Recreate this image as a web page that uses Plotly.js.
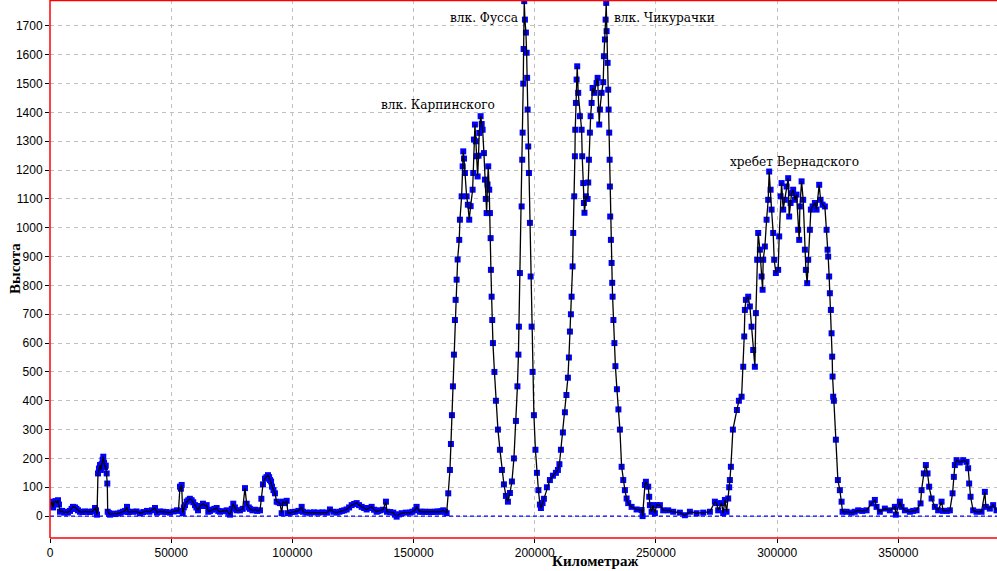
<!DOCTYPE html>
<html>
<head>
<meta charset="utf-8">
<script src="https://cdn.plot.ly/plotly-3.0.1.min.js"></script>
<style>html,body{margin:0;padding:0;background:#fff;}#chart{width:997px;height:571px;}</style>
</head>
<body>
<div id="chart"></div>
<script>
// Profile: distance (m) and elevation (m)
const profile = [
[0,35],[300,40],[800,50],[1300,30],[1650,48],[2300,52],[2900,45],[3300,55],[3700,40],[4125,15],[4950,18],[5800,12],[6600,15],[7400,12],[8250,18],[8900,25],[9490,32],[10300,30],[10900,25],[11550,20],[12375,15],[13400,14],[14440,16],[15500,15],[16500,14],[17500,16],[18560,28],[19000,20],[19390,5],
[19800,148],[20200,165],[20625,177],[21000,160],[21330,180],[21700,195],[21990,206],[22300,185],[22690,170],[23000,175],[23390,148],[23640,113],[23800,15],[24300,10],[24750,5],[25400,8],[25990,8],[27000,7],[28050,9],[29000,12],[30110,15],[31000,18],[31760,32],[32200,15],[32590,14],[34240,15],[35700,16],[37125,10],[38500,14],[40010,18],[41000,15],[42080,20],[43310,28],[44140,12],[45400,16],[46610,15],[48000,14],[49500,12],[51000,16],[52390,20],[53000,18],
[53625,102],[54000,95],[54330,108],[54740,10],[55200,30],[55690,38],[56400,50],[57050,55],[57700,60],[58450,55],[59100,48],[59810,38],[60400,30],[61050,20],[62000,35],[63110,43],[64000,35],[64640,38],[65300,15],[66000,18],[66830,22],[67800,25],[68760,28],[69400,18],[70125,15],[71500,17],[72890,20],[73600,12],[74250,5],[75000,25],[75610,43],[76300,30],[77010,20],[78375,20],[79500,25],[80440,97],[81140,43],[82000,30],[82500,25],[83500,20],[84560,22],[85500,18],[86625,20],
[87200,60],[87860,110],[88690,130],[89300,135],[89925,142],[90400,135],[90750,125],[91200,120],[91580,102],[92200,90],[92810,79],[93510,50],[94200,48],[94875,45],[95580,10],[96110,50],[96900,45],[97640,53],[98175,10],[99000,12],[100000,14],[101060,15],[102500,18],[103830,32],[104360,15],[105800,12],[107250,12],[108900,13],[110550,12],[112400,13],[114260,12],[115500,23],[116900,15],[118260,12],[119400,15],[120450,18],[121400,20],[122390,23],[123400,30],[124450,38],[125500,42],[126510,45],[127500,38],[128580,32],[129600,28],[130640,23],[131700,28],[132700,32],[133700,22],[134760,15],[135400,18],[136125,20],[137400,22],[138600,50],[139010,15],[140300,14],[141610,12],[142300,5],[143010,-2],[144000,6],[145080,10],[146800,12],[148500,12],[149500,15],[150560,20],[151260,32],[152625,15],[153600,15],[154690,15],[155700,14],[156750,15],[157800,14],[158810,15],[159800,16],[160875,15],[161500,17],[162240,20],[163000,15],[163640,10],
[164300,79],[165000,160],[165410,250],[165825,350],[166240,450],[166650,560],[167060,680],[167350,750],[167760,820],[168180,890],[168840,958],[169125,1028],[169830,1109],[170240,1213],[170490,1265],[170800,1240],[171190,1190],[171890,1109],[172400,1080],[172960,1028],[173540,1075],[174360,1132],[174610,1190],[174900,1306],[175310,1358],[175700,1300],[176010,1248],[176430,1178],[176800,1250],[177090,1329],[177660,1387],[178100,1360],[178490,1340],[179025,1259],[179440,1167],[179800,1100],[180140,1051],[180500,1150],[180800,1213],[181210,1132],[181500,1051],[181790,964],[181910,854],[182200,761],[182450,680],[182740,600],[183360,500],[183975,400],[184800,300],[185625,230],[186450,160],[187280,110],[188100,70],[188925,50],[189750,80],[190575,120],[191400,200],[192225,330],[192840,450],[193260,560],[193460,657],[193875,843],[194580,1074],[194820,1236],[194990,1330],[195240,1500],[195400,1620],[195650,1786],[195940,1722],[196350,1677],[196640,1607],[196845,1520],[197050,1410],[197300,1282],[197590,1190],[198000,1017],[198290,831],[198700,657],[199110,500],[199650,350],[200270,230],[200890,150],[201500,90],[202125,40],[202540,28],
[203200,45],[203775,60],[205010,100],[206250,125],[207490,140],[208725,150],[209550,160],[210170,180],[210790,230],[211610,290],[212440,360],[213060,420],[213675,480],[214090,550],[214500,640],[214910,700],[215200,761],[215610,866],[215860,982],[216270,1109],[216560,1248],[216690,1340],[216980,1433],[217260,1514],[217510,1560],[217920,1468],[218625,1387],[219330,1340],[219570,1248],[219990,1155],[220275,1086],[220500,1052],[221100,1109],[221800,1100],[222050,1157],[222340,1236],[222750,1330],[223040,1387],[223450,1433],[223860,1485],[224520,1468],[225510,1502],[225930,1520],[226590,1358],[226875,1410],[227580,1468],[228240,1505],[228525,1595],[228940,1653],[229230,1722],[229470,1780],[229640,1682],[230050,1572],[230300,1479],[230460,1410],[230710,1330],[230880,1236],[231000,1143],[231120,1039],[231410,958],[231700,878],[231950,809],[232110,761],[232440,680],[232860,600],[233270,520],[233890,440],[234510,370],[235125,300],[235830,171],[236490,125],[237190,90],[237890,61],[238550,45],[239950,32],[242010,23],[244080,21],[244490,0],
[245440,108],[245850,119],[246800,102],[247210,67],[247500,38],[248200,15],[248860,38],[249560,10],[250260,38],[251625,38],[252990,20],[255050,20],[257110,15],[259875,12],[261940,3],[264000,15],[266760,10],[269490,12],[272250,15],[274310,50],[275010,45],[275670,20],[277080,45],[277740,10],[278440,56],[279140,15],[279800,61],[280210,100],[280500,125],[280910,171],[281740,300],[283390,368],[284210,400],[285330,414],[286000,518],[286410,623],[286690,715],[287100,750],[288050,761],[288750,727],[289450,657],[290110,576],[290810,518],[291225,704],[291760,889],[292170,982],[292875,924],[293580,831],[293990,785],[294240,889],[294940,935],[295640,1028],[296300,1097],[296710,1195],[297290,1132],[297700,1063],[298360,982],[298770,889],[299475,843],[300420,854],[300840,970],[301410,1109],[301830,1155],[302490,1063],[303190,1097],[303890,1143],[304550,1172],[304960,1039],[305540,1086],[305950,1120],[306610,1132],[307310,1097],[308010,1115],[308670,993],[309090,958],[309375,1074],[310080,1161],[310740,1097],[311440,924],[311850,854],[312390,808],[312800,889],[313500,993],[313910,1063],[314610,1074],[315560,1086],[316260,1063],[317340,1149],[317910,1097],[318740,1080],[319690,1074],[320390,993],[320800,924],[321050,900],[321460,831],[321750,773],[322160,715],[322450,634],[322700,553],[322860,484],[323110,414],[323400,400],[324225,265],[325050,125],[325875,90],[326580,50],[326990,15],
[328640,15],[330700,12],[332000,15],[333420,20],[335100,18],[336890,20],[338950,44],[340310,56],[341010,32],[342375,15],[344440,26],[346500,20],[348560,32],[348975,5],[350625,50],[351330,32],[352690,20],[354750,15],[356100,18],[357510,20],[359160,44],[359580,90],[360525,148],[361350,177],[362050,148],[362710,102],[363700,61],[365060,32],[366420,20],[367830,50],[368490,18],[370000,18],[371250,20],[372360,79],[372900,136],[373310,177],[374010,194],[375375,186],[376740,194],[378140,188],[378800,166],[379210,113],[379790,67],[380860,20],[382260,15],[384320,15],[385690,84],[386100,32],[387750,26],[389110,38],[390500,20]
];
const distance = profile.map(p => p[0]);
const elevation = profile.map(p => p[1]);

const xTickValues = [0, 50000, 100000, 150000, 200000, 250000, 300000, 350000];
const labelText = ['влк. Карпинского', 'влк. Фусса', 'влк. Чикурачки', 'хребет Вернадского'];
const labelX = [160050, 193875, 231825, 307310];
const labelY = [1430, 1731, 1731, 1233];
const labelAnchor = ['center', 'right', 'left', 'center'];

const traces = [
  {x: distance, y: elevation, type: 'scatter', mode: 'markers',
   marker: {symbol: 'square', size: 6, color: '#0000ff'}, hoverinfo: 'skip', showlegend: false},
  {x: distance, y: elevation, type: 'scatter', mode: 'lines',
   line: {color: '#000000', width: 1.3}, showlegend: false}
];

const serif = "'DejaVu Serif Condensed', 'DejaVu Serif', serif";
const annotations = labelText.map((t, i) => ({
  x: labelX[i], y: labelY[i], xref: 'x', yref: 'y', text: t, showarrow: false,
  xanchor: labelAnchor[i],
  font: {family: serif, size: 13.5, color: '#000'}
}));
annotations.push({
  xref: 'paper', yref: 'paper', x: 0.5755, y: 0, yshift: -23, yanchor: 'middle',
  text: '<b>Километраж</b>', showarrow: false,
  font: {family: 'Liberation Serif', size: 15, color: '#000'}
});
annotations.push({
  xref: 'paper', yref: 'paper', x: 0, xshift: -35, y: 0.5, xanchor: 'center', yanchor: 'middle',
  textangle: -90, text: '<b>Высота</b>', showarrow: false,
  font: {family: 'Liberation Serif', size: 15, color: '#000'}
});

const layout = {
  width: 997, height: 571,
  margin: {l: 50, r: 0, t: 0, b: 33},
  paper_bgcolor: '#ffffff', plot_bgcolor: '#ffffff',
  showlegend: false,
  xaxis: {
    range: [0, 390700], tickvals: xTickValues, ticktext: xTickValues.map(String),
    showgrid: true, gridcolor: '#c0c0c0', griddash: '4px,4px', gridwidth: 1,
    zeroline: false, showline: false,
    ticks: 'outside', ticklen: 4, tickcolor: '#000',
    tickfont: {family: 'Liberation Sans', size: 12, color: '#000'}
  },
  yaxis: {
    range: [-76, 1790], dtick: 100, tick0: 0,
    showgrid: true, gridcolor: '#c0c0c0', griddash: '4px,4px', gridwidth: 1,
    zeroline: false, showline: false,
    ticks: 'outside', ticklen: 4, tickcolor: '#000',
    tickfont: {family: 'Liberation Sans', size: 12, color: '#000'}
  },
  shapes: [
    {type: 'line', xref: 'paper', yref: 'y', x0: 0, x1: 1, y0: 0, y1: 0,
     line: {color: '#0000ff', width: 1.2, dash: '4px,3px'}, layer: 'above'},
    {type: 'line', xref: 'paper', yref: 'paper', x0: 0, x1: 0, y0: 0, y1: 1,
     line: {color: '#ff0000', width: 1.5}},
    {type: 'line', xref: 'paper', yref: 'paper', x0: 0, x1: 1, y0: 0, y1: 0,
     line: {color: '#ff0000', width: 1.5}},
    {type: 'line', xref: 'paper', yref: 'paper', x0: 0, x1: 1, y0: 1, y1: 1,
     line: {color: '#ff0000', width: 2.5}}
  ],
  annotations: annotations
};

Plotly.newPlot('chart', traces, layout, {displayModeBar: false, staticPlot: true});
</script>
</body>
</html>
